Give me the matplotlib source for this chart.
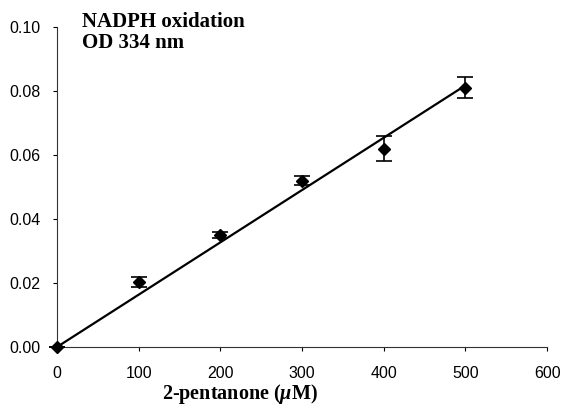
import numpy as np
import matplotlib.pyplot as plt

plt.rcParams['mathtext.fontset'] = 'custom'
plt.rcParams['mathtext.it'] = 'Liberation Serif:italic:bold'
plt.rcParams['mathtext.rm'] = 'Liberation Serif:bold'

# Data
conc = [0, 100, 200, 300, 400, 500]
od = [0.0, 0.0203, 0.035, 0.052, 0.062, 0.081]
err = [0.0, 0.0015, 0.001, 0.0015, 0.004, 0.0033]

xticks = [0, 100, 200, 300, 400, 500, 600]
yticks = [0.00, 0.02, 0.04, 0.06, 0.08, 0.10]

fig = plt.figure(figsize=(5.67, 4.09), dpi=100)
ax = fig.add_axes([0.1005, 0.1516, 0.8645, 0.7824])

# Linear fit through the origin
x = np.array(conc, dtype=float)
y = np.array(od)
slope = (x * y).sum() / (x * x).sum()
xf = np.array([0, 500])
ax.plot(xf, slope * xf, color='black', lw=1.6, zorder=2)

ax.errorbar(conc, od, yerr=err, fmt='D', color='black', ms=6.5,
            ecolor='black', elinewidth=1.2, capsize=6, capthick=1.2,
            clip_on=False, zorder=3)

ax.set_xlim(0, 600)
ax.set_ylim(0, 0.10)
ax.set_xticks(xticks)
ax.set_yticks(yticks)
ax.set_yticklabels([f"{v:.2f}" for v in yticks])
for s in ['top', 'right']:
    ax.spines[s].set_visible(False)
for s in ['left', 'bottom']:
    ax.spines[s].set_linewidth(0.8)
    ax.spines[s].set_color('#333333')
ax.tick_params(direction='out', length=3, width=0.8, labelsize=11.5,
               colors='black')
ax.tick_params(axis='y', pad=9)
ax.tick_params(axis='x', pad=11)
for lab in ax.get_xticklabels() + ax.get_yticklabels():
    lab.set_family('Liberation Sans')

fig.text(82 / 567, 1 - 12 / 409, "NADPH oxidation\nOD 334 nm",
         ha='left', va='top', fontsize=15, fontweight='bold',
         family='Liberation Serif', linespacing=1.05)

fig.text(240 / 567, 1 - 406 / 409, r"2-pentanone ($\mathit{\mu}$M)",
         ha='center', va='bottom', fontsize=14.5, fontweight='bold',
         family='Liberation Serif')

fig.savefig('out.png', dpi=100)
